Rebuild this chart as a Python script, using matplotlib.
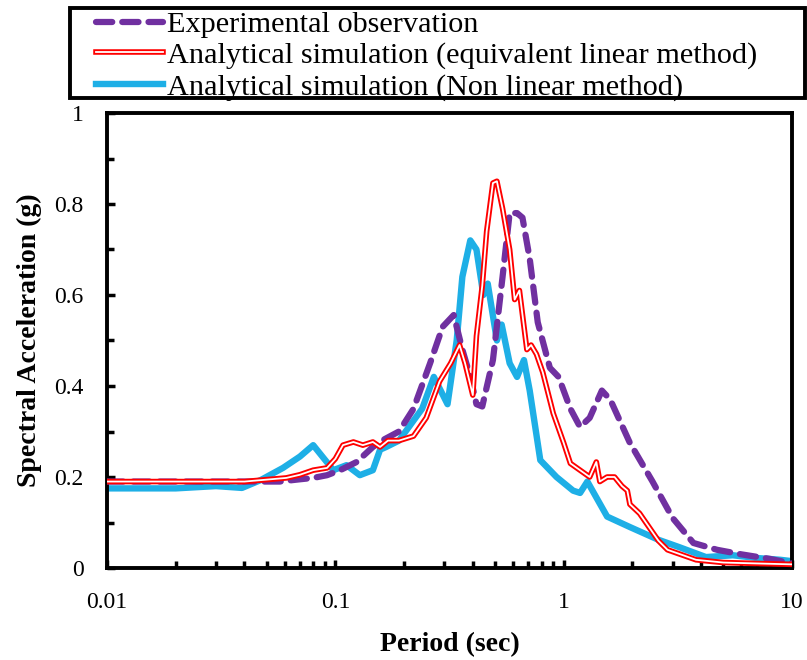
import numpy as np
import matplotlib
matplotlib.use('Agg')
import matplotlib.pyplot as plt
from matplotlib import patheffects as pe
from matplotlib.patches import Rectangle
from matplotlib.ticker import LogLocator, MultipleLocator, FixedLocator, FixedFormatter

plt.rcParams['font.family'] = ['Liberation Serif', 'DejaVu Serif']

# experimental observation (purple dashed)
exp_period = [0.01, 0.02, 0.04, 0.057, 0.07, 0.08, 0.092, 0.105, 0.124, 0.146, 0.16, 0.19,
              0.22, 0.26, 0.295, 0.33, 0.36, 0.39, 0.415, 0.44, 0.49, 0.54, 0.58, 0.625,
              0.66, 0.71, 0.77, 0.87, 0.95, 1.07, 1.18, 1.3, 1.47, 1.6, 1.95, 2.45, 3.0,
              3.7, 4.7, 6.0, 8.0, 10.0]
exp_sa = [0.19, 0.19, 0.19, 0.19, 0.195, 0.198, 0.204, 0.215, 0.233, 0.266, 0.28, 0.30,
          0.35, 0.45, 0.53, 0.556, 0.48, 0.42, 0.36, 0.355, 0.457, 0.64, 0.78, 0.78,
          0.77, 0.68, 0.54, 0.44, 0.42, 0.35, 0.31, 0.33, 0.39, 0.37, 0.275, 0.19, 0.11,
          0.055, 0.04, 0.03, 0.02, 0.01]

# equivalent linear method (red double line)
eql_period = [0.01, 0.04, 0.061, 0.07, 0.08, 0.092, 0.1, 0.108, 0.12, 0.132, 0.146, 0.157,
              0.17, 0.19, 0.22, 0.25, 0.286, 0.32, 0.35, 0.37, 0.4, 0.415, 0.44, 0.46,
              0.49, 0.51, 0.54, 0.58, 0.61, 0.64, 0.69, 0.72, 0.76, 0.81, 0.9, 1.0, 1.07,
              1.3, 1.39, 1.44, 1.55, 1.67, 1.8, 1.9, 1.95, 2.15, 2.6, 2.85, 3.8, 5.0, 7.0,
              10.0]
eql_sa = [0.19, 0.19, 0.198, 0.205, 0.215, 0.22, 0.24, 0.27, 0.277, 0.27, 0.277, 0.266,
          0.28, 0.28, 0.29, 0.33, 0.41, 0.45, 0.49, 0.45, 0.38, 0.51, 0.62, 0.74,
          0.846, 0.85, 0.79, 0.70, 0.59, 0.61, 0.48, 0.49, 0.47, 0.43, 0.34, 0.275, 0.23,
          0.20, 0.233, 0.19, 0.20, 0.20, 0.18, 0.17, 0.14, 0.12, 0.06, 0.04, 0.018, 0.012,
          0.01, 0.008]

# non linear method (blue)
nl_period = [0.01, 0.02, 0.03, 0.039, 0.047, 0.059, 0.07, 0.08, 0.098, 0.112, 0.128, 0.146,
             0.157, 0.167, 0.19, 0.21, 0.24, 0.27, 0.31, 0.34, 0.36, 0.39, 0.415, 0.445,
             0.465, 0.51, 0.535, 0.58, 0.625, 0.67, 0.71, 0.79, 0.93, 1.1, 1.18, 1.27,
             1.55, 1.95, 2.6, 3.2, 4.2, 5.5, 7.0, 8.9, 10.0]
nl_sa = [0.175, 0.175, 0.18, 0.176, 0.193, 0.22, 0.245, 0.27, 0.215, 0.226, 0.204, 0.215,
         0.26, 0.266, 0.28, 0.31, 0.35, 0.42, 0.36, 0.50, 0.64, 0.72, 0.70, 0.60,
         0.625, 0.50, 0.535, 0.45, 0.42, 0.457, 0.39, 0.237, 0.20, 0.17, 0.165, 0.19,
         0.113, 0.09, 0.062, 0.046, 0.024, 0.028, 0.022, 0.018, 0.015]

x_ticks = [0.01, 0.1, 1, 10]
x_ticklabels = ['0.01', '0.1', '1', '10']
y_ticks = [0, 0.2, 0.4, 0.6, 0.8, 1]
y_ticklabels = ['0', '0.2', '0.4', '0.6', '0.8', '1']

fig = plt.figure(figsize=(8.07, 6.6), dpi=100)
ax = fig.add_axes([107 / 807, 92 / 660, 685 / 807, 455 / 660])

l_exp, = ax.plot(exp_period, exp_sa, color='#7030A0', lw=4.5, linestyle=(0, (2.6, 1.6)),
                 dash_capstyle='round', label='Experimental observation', zorder=3)
l_eql, = ax.plot(eql_period, eql_sa, color='white', lw=1.3, zorder=4,
                 path_effects=[pe.Stroke(linewidth=4.0, foreground='#FF0000'), pe.Normal()],
                 label='Analytical simulation (equivalent linear method)')
l_nl, = ax.plot(nl_period, nl_sa, color='#1EAFE6', lw=4.6, solid_joinstyle='round',
                label='Analytical simulation (Non linear method)', zorder=2)

ax.set_xscale('log')
ax.set_xlim(0.01, 10)
ax.set_ylim(0, 1)
ax.xaxis.set_major_locator(FixedLocator(x_ticks))
ax.xaxis.set_major_formatter(FixedFormatter(x_ticklabels))
ax.xaxis.set_minor_locator(LogLocator(base=10, subs=np.arange(2, 10)))
ax.xaxis.set_minor_formatter(plt.NullFormatter())
ax.yaxis.set_major_locator(FixedLocator(y_ticks))
ax.yaxis.set_major_formatter(FixedFormatter(y_ticklabels))
ax.yaxis.set_minor_locator(MultipleLocator(0.1))

ax.tick_params(which='both', direction='in', width=2.5, labelsize=17, top=False, right=False)
ax.tick_params(which='major', length=6)
ax.tick_params(which='minor', length=5)
ax.tick_params(axis='y', pad=17)
ax.tick_params(axis='x', pad=17)
for s in ax.spines.values():
    s.set_linewidth(2.8)

ax.set_xlabel('Period (sec)', fontsize=20, fontweight='bold', labelpad=14)
ax.set_ylabel('Spectral Acceleration (g)', fontsize=20, fontweight='bold', labelpad=9)

# legend frame drawn separately so the entries can sit indented inside it
fig.patches.append(Rectangle((70 / 807, 1 - 98 / 660), 735 / 807, 90 / 660,
                             transform=fig.transFigure, fill=False, edgecolor='black',
                             linewidth=2.8, zorder=5))
leg = fig.legend(handles=[l_exp, l_eql, l_nl], loc='upper left',
                 bbox_to_anchor=(96 / 807, 1 - 11 / 660), frameon=False,
                 fontsize=21.8, handlelength=2.2, handletextpad=0.15, labelspacing=0.12,
                 borderpad=0, borderaxespad=0)

fig.savefig('out.png', dpi=100)
